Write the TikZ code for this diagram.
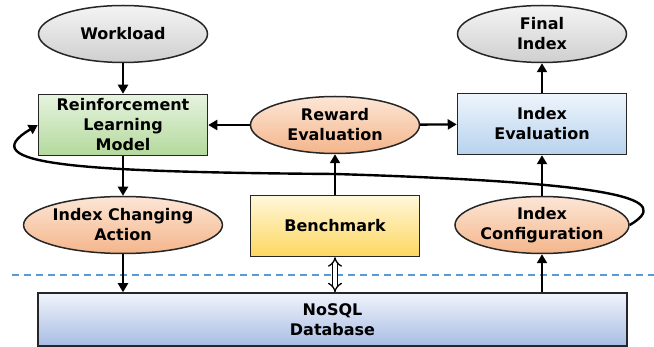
\documentclass[tikz,border=0pt]{standalone}
\usepackage{fontspec}
\setmainfont{DejaVu Sans}
\usetikzlibrary{arrows.meta,shapes.geometric}

\definecolor{grayT}{HTML}{F4F4F4}
\definecolor{grayB}{HTML}{CFCFCF}
\definecolor{orangeT}{HTML}{FCE6D6}
\definecolor{orangeB}{HTML}{F4B58A}
\definecolor{greenT}{HTML}{E6F3DF}
\definecolor{greenB}{HTML}{B3D99C}
\definecolor{blueT}{HTML}{EEF5FC}
\definecolor{blueB}{HTML}{B7D2EE}
\definecolor{yellowT}{HTML}{FFF7DA}
\definecolor{yellowB}{HTML}{FDD760}
\definecolor{dbT}{HTML}{F0F4FB}
\definecolor{dbB}{HTML}{A8BCE4}
\definecolor{dashblue}{HTML}{5B9BD5}

\begin{document}
\begin{tikzpicture}[x=1pt,y=-1pt,line width=2.4pt,>={Triangle[length=9pt,width=10pt]},
	font=\fontsize{16}{20}\selectfont\bfseries,
	oval/.style={ellipse, draw=black!85, line width=1.5pt, align=center, inner sep=0pt, minimum width=169pt, minimum height=57pt},
	block/.style={rectangle, draw=black!85, line width=1.5pt, align=center, inner sep=0pt, minimum width=169pt, minimum height=61pt},
	gray/.style={top color=grayT, bottom color=grayB},
	peach/.style={top color=orangeT, bottom color=orangeB}]
	\useasboundingbox (0,0) rectangle (654,347);
	\node[oval,gray] (work) at (123,34) {Workload};
	\node[oval,gray] (final) at (542,34) {Final\\Index};
	\node[block,top color=greenT,bottom color=greenB] (rlm) at (123,125) {Reinforcement\\Learning\\Model};
	\node[oval,peach] (reward) at (335,125) {Reward\\Evaluation};
	\node[block,top color=blueT,bottom color=blueB] (ieval) at (542,124) {Index\\Evaluation};
	\node[oval,peach] (action) at (123,225) {Index Changing\\Action};
	\node[block,top color=yellowT,bottom color=yellowB] (bench) at (335,226) {Benchmark};
	\node[oval,peach] (iconf) at (542,225) {Index\\Configuration};
	\node[block,top color=dbT,bottom color=dbB,minimum width=589pt,minimum height=53pt] (db) at (332.5,319.5) {NoSQL\\Database};
	\draw[dashblue,line width=1.2pt,dash pattern=on 7pt off 5pt] (12,275) -- (654,275);
	\draw[->] (work) -- (rlm);
	\draw[->] (rlm) -- (action);
	\draw[->] (action.south) -- (action.south |- db.north);
	\draw[->] (reward) -- (rlm);
	\draw[->] (reward) -- (ieval);
	\draw[->] (bench) -- (reward);
	\draw[line width=1.3pt,double,double distance=3.5pt,{Implies}-{Implies}] (bench.south) -- (bench.south |- db.north);
	\draw[->] (iconf.south |- db.north) -- (iconf.south);
	\draw[->] (iconf) -- (ieval);
	\draw[->] (ieval) -- (final);
	\coordinate (mid) at (335,174);
	\draw[->] (iconf.east) .. controls (672,200) and (630,183) .. (mid) .. controls (80,172) and (-30,165) .. (rlm.west);
\end{tikzpicture}
\end{document}
